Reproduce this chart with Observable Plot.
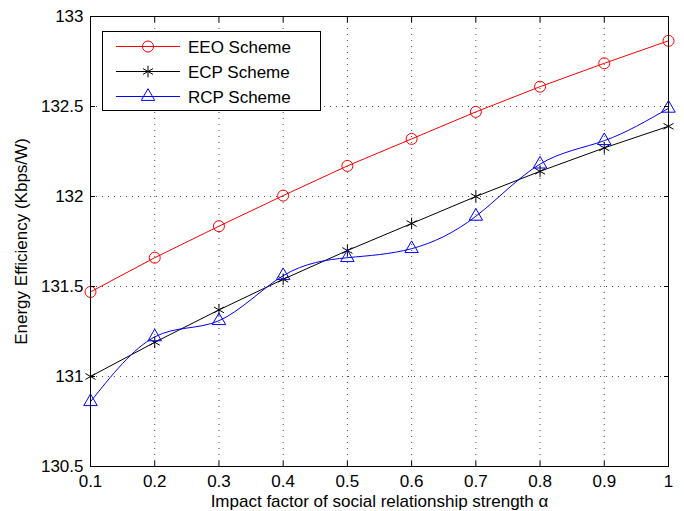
<!DOCTYPE html>
<html><head><meta charset="utf-8">
<script src="https://cdn.jsdelivr.net/npm/d3@7"></script>
<script src="https://cdn.jsdelivr.net/npm/@observablehq/plot@0.6"></script>
<style>
body{margin:0;background:#fff}
#chart{width:684px;height:511px;position:relative}
</style>
</head><body><div id="chart"></div>
<script>
const alpha = [0.1, 0.2, 0.3, 0.4, 0.5, 0.6, 0.7, 0.8, 0.9, 1.0];
const eeo = [131.47, 131.66, 131.835, 132.005, 132.17, 132.32, 132.47, 132.61, 132.74, 132.865];
const ecp = [131.00, 131.19, 131.37, 131.54, 131.70, 131.85, 132.00, 132.14, 132.27, 132.39];
const rcp = [130.86, 131.22, 131.31, 131.56, 131.66, 131.71, 131.89, 132.18, 132.31, 132.49];
const seriesNames = ["EEO Scheme", "ECP Scheme", "RCP Scheme"];
const seriesColors = ["#ff0000", "#000000", "#0000ff"];
const seriesSymbols = ["circle", "asterisk", "triangle"];
const seriesCurves = ["linear", "linear", "natural"];
const xTicks = [0.1, 0.2, 0.3, 0.4, 0.5, 0.6, 0.7, 0.8, 0.9, 1];
const yTicks = [130.5, 131, 131.5, 132, 132.5, 133];
const xLabel = "Impact factor of social relationship strength α";
const yLabel = "Energy Efficiency (Kbps/W)";

const seriesValues = [eeo, ecp, rcp];
const rows = seriesNames.map((name, i) => alpha.map((a, j) => ({series: name, x: a, y: seriesValues[i][j]})));

const font = "Liberation Sans, Arial, Helvetica, sans-serif";
const grid = {stroke: "#000", strokeOpacity: 0.7, strokeDasharray: "1,5", strokeWidth: 1};
const symR = {circle: 5.5, asterisk: 5.5, triangle: 5};

const marks = [
  Plot.gridX(xTicks, grid),
  Plot.gridY(yTicks, grid),
];
rows.forEach((data, i) => {
  marks.push(Plot.line(data, {x: "x", y: "y", stroke: seriesColors[i], strokeWidth: 1, curve: seriesCurves[i]}));
});
rows.forEach((data, i) => {
  const sym = seriesSymbols[i];
  marks.push(Plot.dot(data, {
    x: "x", y: "y", symbol: sym, r: symR[sym],
    fill: "none", stroke: seriesColors[i], strokeWidth: 1
  }));
});
marks.push(
  Plot.axisX(xTicks, {anchor: "bottom", tickSize: 0, tickPadding: 8, tickFormat: d3.format("~g"), fontSize: 17, label: xLabel, labelAnchor: "center", labelOffset: 40, labelArrow: "none"}),
  Plot.axisX(xTicks, {anchor: "bottom", tickSize: 5, dy: -5, fill: "none", label: null}),
  Plot.axisX(xTicks, {anchor: "top", tickSize: 5, dy: 5, fill: "none", label: null}),
  Plot.axisY(yTicks, {anchor: "left", tickSize: 0, tickPadding: 7, tickFormat: d3.format("~g"), fontSize: 17, label: yLabel, labelAnchor: "center", labelOffset: 76, labelArrow: "none"}),
  Plot.axisY(yTicks, {anchor: "left", tickSize: 5, dx: 5, fill: "none", label: null}),
  Plot.axisY(yTicks, {anchor: "right", tickSize: 5, dx: -5, fill: "none", label: null}),
  Plot.frame({stroke: "#000", strokeWidth: 1})
);

const chart = Plot.plot({
  width: 684, height: 511,
  marginLeft: 90, marginRight: 16, marginTop: 16, marginBottom: 45,
  style: {fontFamily: font, fontSize: "17px", color: "#000", background: "#fff"},
  x: {domain: [0.1, 1]},
  y: {domain: [130.5, 133]},
  marks
});
document.getElementById("chart").appendChild(chart);

// Legend box
const svg = d3.select(chart);
const lg = svg.append("g").attr("font-family", font).attr("font-size", 17).attr("text-anchor", "start");
lg.append("rect").attr("x", 102.5).attr("y", 31.5).attr("width", 218).attr("height", 79)
  .attr("fill", "#fff").attr("stroke", "#000").attr("stroke-width", 1);
const symMap = {circle: d3.symbolCircle, asterisk: d3.symbolAsterisk, triangle: d3.symbolTriangle};
seriesNames.forEach((name, i) => {
  const cy = 46.5 + i * 25;
  const g = lg.append("g").attr("transform", `translate(0,${cy})`);
  g.append("line").attr("x1", 116).attr("x2", 180).attr("y1", 0).attr("y2", 0)
    .attr("stroke", seriesColors[i]).attr("stroke-width", 1);
  const r = symR[seriesSymbols[i]];
  g.append("path").attr("transform", "translate(148,0)")
    .attr("d", d3.symbol(symMap[seriesSymbols[i]], Math.PI * r * r)())
    .attr("fill", "none").attr("stroke", seriesColors[i]).attr("stroke-width", 1);
  g.append("text").attr("x", 188).attr("y", 0).attr("dy", "0.36em").attr("fill", "#000").text(name);
});
</script>
</body></html>
